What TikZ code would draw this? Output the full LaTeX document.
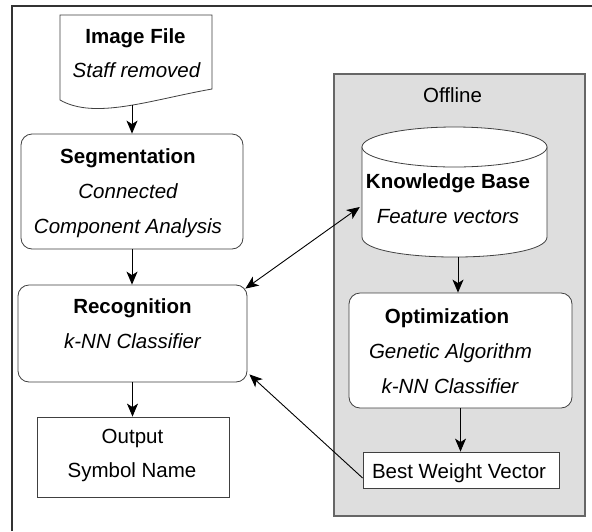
\documentclass[tikz,border=0pt]{standalone}
\usepackage{fontspec}
\setmainfont{Liberation Sans}
\usetikzlibrary{arrows.meta,calc}
\begin{document}
\begin{tikzpicture}[x=1pt,y=-1pt,
  box/.style={draw=black!75, line width=0.8pt, fill=white, inner sep=0pt},
  rbox/.style={box, rounded corners=11pt},
  ghost/.style={inner sep=0pt},
  txt/.style={font=\fontsize{20.5}{24}\selectfont, anchor=base, inner sep=0pt},
  bf/.style={txt, font=\fontsize{20.5}{24}\selectfont\bfseries},
  it/.style={txt, font=\fontsize{20.5}{24}\selectfont\itshape},
  arr/.style={-{Stealth[length=13pt,width=11pt,inset=3.5pt]}, line width=0.9pt, black},
  darr/.style={{Stealth[length=13pt,width=11pt,inset=3.5pt]}-{Stealth[length=13pt,width=11pt,inset=3.5pt]}, line width=0.9pt, black},
]
\useasboundingbox (0,0) rectangle (592,531);
\fill[white] (0,0) rectangle (592,531);
% outer frame
\draw[black!80, line width=1.2pt] (12,531) -- (12,6) -- (592,6);
% offline region
\node[draw=black!60, fill=black!13, line width=1.1pt, minimum width=251pt, minimum height=442pt, inner sep=0pt] (off) at (459.5,295) {};
\node[txt] (offt) at (452.5,102) {Offline};
% image file (document shape)
\filldraw[fill=white, draw=black!75, line width=0.8pt] (60,100) -- (60,15) -- (212,15) -- (212,89)
  .. controls (150,100) and (95,120) .. (60,100) -- cycle;
\node[ghost, minimum width=152pt, minimum height=90pt] (img) at (136,60) {};
\node[bf] (imgt1) at (135.5,43) {Image File};
\node[it] (imgt2) at (136.5,77) {Staff removed};
% segmentation
\node[rbox, minimum width=222pt, minimum height=115pt] (seg) at (132,191.5) {};
\node[bf] (segt1) at (128,163) {Segmentation};
\node[it] (segt2) at (128,198.5) {Connected};
\node[it] (segt3) at (128,233) {Component Analysis};
% recognition
\node[rbox, minimum width=229pt, minimum height=97pt] (rec) at (132.5,333.5) {};
\node[bf] (rect1) at (132.5,313) {Recognition};
\node[it] (rect2) at (132.5,348) {k-NN Classifier};
% output
\node[box, minimum width=192pt, minimum height=80pt] (out) at (133,457) {};
\node[txt] (outt1) at (132.5,443) {Output};
\node[txt] (outt2) at (132,477) {Symbol Name};
% knowledge base cylinder
\filldraw[fill=white, draw=black!75, line width=0.8pt] (362,147) -- (362,237)
  .. controls (362,263.7) and (547,263.7) .. (547,237) -- (547,147) -- cycle;
\filldraw[fill=white, draw=black!75, line width=0.8pt] (454.5,147) ellipse [x radius=92.5, y radius=20];
\node[ghost, minimum width=185pt, minimum height=130pt] (kb) at (454.5,192) {};
\node[bf] (kbt1) at (448,188) {Knowledge Base};
\node[it] (kbt2) at (448,223) {Feature vectors};
% optimization
\node[rbox, minimum width=223pt, minimum height=115pt] (opt) at (460.5,350.5) {};
\node[bf] (optt1) at (447,323) {Optimization};
\node[it] (optt2) at (450.5,358) {Genetic Algorithm};
\node[it] (optt3) at (450,393) {k-NN Classifier};
% best weight vector
\node[box, minimum width=196pt, minimum height=36pt] (bwv) at (461,470) {};
\node[txt] (bwvt) at (459,478) {Best Weight Vector};
% connectors
\draw[arr] (seg.north |- img.south) -- (seg.north);
\draw[arr] (seg.south) -- (seg.south |- rec.north);
\draw[arr] (rec.south) -- (rec.south |- out.north);
\coordinate (kbo) at ($(kb.south)+(3.5,0)$);
\draw[arr] (kbo) -- (kbo |- opt.north);
\draw[arr] (opt.south) -- (opt.south |- bwv.north);
\draw[darr] ($(rec.north east)+(-2,4)$) -- ($(kb.west)+(-2,15)$);
\draw[arr] ($(bwv.west)+(0,8)$) -- ($(rec.south east)+(2,-8)$);
\end{tikzpicture}
\end{document}
